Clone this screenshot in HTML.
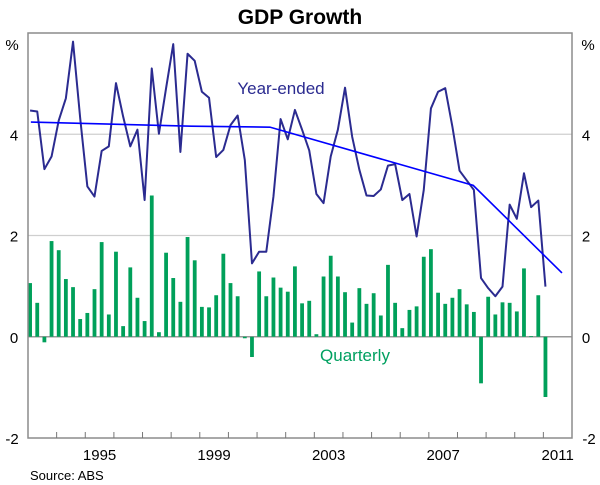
<!DOCTYPE html>
<html><head><meta charset="utf-8"><style>
body{margin:0;background:#fff;}
svg{display:block;font-family:"Liberation Sans",Arial,sans-serif;}
</style></head><body>
<svg id="c" width="600" height="485">
<text x="300" y="24" text-anchor="middle" font-size="21" font-weight="bold" fill="#000">GDP Growth</text>
<text x="12" y="50" text-anchor="middle" font-size="15">%</text>
<text x="588" y="50" text-anchor="middle" font-size="15">%</text>
<text x="30" y="480" font-size="13" fill="#000">Source: ABS</text>
<g id="grid"></g><g id="bars"></g><g id="lines"></g><g id="axes"></g>
<text x="281" y="94" text-anchor="middle" font-size="17" fill="#2b2b90">Year-ended</text>
<text x="355" y="361" text-anchor="middle" font-size="17" fill="#00a060">Quarterly</text>
</svg>
<script>
const quarterly=[1.06,0.67,-0.11,1.89,1.71,1.14,0.98,0.35,0.47,0.94,1.87,0.44,1.68,0.21,1.37,0.77,0.31,2.79,0.09,1.66,1.16,0.69,1.97,1.51,0.59,0.58,0.82,1.64,1.06,0.80,-0.03,-0.40,1.29,0.80,1.17,0.97,0.89,1.39,0.66,0.71,0.05,1.19,1.60,1.19,0.88,0.28,0.96,0.65,0.86,0.42,1.42,0.67,0.17,0.53,0.60,1.58,1.73,0.87,0.65,0.77,0.94,0.64,0.49,-0.92,0.79,0.44,0.68,0.67,0.50,1.35,0.01,0.82,-1.19];
const yearEnded=[4.47,4.45,3.31,3.56,4.27,4.71,5.83,4.32,2.97,2.77,3.67,3.76,5.01,4.35,3.76,4.09,2.70,5.30,4.01,4.91,5.78,3.65,5.59,5.45,4.84,4.72,3.55,3.69,4.18,4.37,3.49,1.45,1.68,1.68,2.77,4.30,3.90,4.48,4.09,3.68,2.82,2.64,3.56,4.09,4.92,3.95,3.30,2.79,2.78,2.91,3.38,3.41,2.70,2.82,1.98,2.90,4.51,4.84,4.91,4.15,3.28,3.09,2.90,1.16,0.96,0.80,0.99,2.61,2.33,3.23,2.56,2.69,0.99];
const trendDates=[1993.1,1998.7,2001.45,2008.55,2011.65];
const trendValues=[4.24,4.16,4.14,2.99,1.26];
const yTicks=[-2,0,2,4];
const yearLabels=[1995,1999,2003,2007,2011];
const startYear=1993,endYear=2012;
const L=28,R=572,T=33,B=438,yMin=-2,yMax=6;
const NS="http://www.w3.org/2000/svg";
const xs=d=>L+(d-startYear)/(endYear-startYear)*(R-L);
const ys=v=>B-(v-yMin)/(yMax-yMin)*(B-T);
const qx=i=>xs(startYear+(i+0.5)/4)-1.5;
function mk(p,t,a){const e=document.createElementNS(NS,t);for(const k in a)e.setAttribute(k,a[k]);p.appendChild(e);return e;}
const grid=document.getElementById('grid'),bars=document.getElementById('bars'),lines=document.getElementById('lines'),axes=document.getElementById('axes');
yTicks.forEach(v=>{
 if(v>yMin){const g=mk(grid,'line',{x1:L,x2:R,y1:ys(v),y2:ys(v),stroke:v===0?'#999':'#cfcfcf','stroke-width':v===0?1.5:1.2});
 
 }
 const t1=mk(axes,'text',{x:v<0?12:14,y:ys(v)+6,'text-anchor':'middle','font-size':15});t1.textContent=v;
 
 
 const t2=mk(axes,'text',{x:v<0?589:586,y:ys(v)+6,'text-anchor':'middle','font-size':15});t2.textContent=v;
 
 
});
quarterly.forEach((v,i)=>{
 const y0=ys(0),y1=ys(v);
 const b=mk(bars,'rect',{x:qx(i)-1.9,width:3.8,y:Math.min(y0,y1),height:Math.max(0.8,Math.abs(y1-y0)),fill:'#00a05a'});
 
 
});
const pe=mk(lines,'polyline',{points:yearEnded.map((v,i)=>qx(i)+','+ys(v)).join(' '),fill:'none',stroke:'#2b2b90','stroke-width':2,'stroke-linejoin':'round'});


const tr=mk(lines,'polyline',{points:trendDates.map((d,i)=>xs(d)+','+ys(trendValues[i])).join(' '),fill:'none',stroke:'#0000ff','stroke-width':1.6});


const fr=mk(axes,'rect',{x:L,y:T,width:R-L,height:B-T,fill:'none',stroke:'#8c8c8c','stroke-width':1.5});


for(let y=startYear+1;y<endYear;y++){
 const tk=mk(axes,'line',{x1:xs(y),x2:xs(y),y1:B,y2:B-6,stroke:'#777','stroke-width':1});
 
 
}
yearLabels.forEach(y=>{
 const t=mk(axes,'text',{x:xs(y+0.5),y:B+22,'text-anchor':'middle','font-size':15});t.textContent=y;
 
 
});
</script>
</body></html>
